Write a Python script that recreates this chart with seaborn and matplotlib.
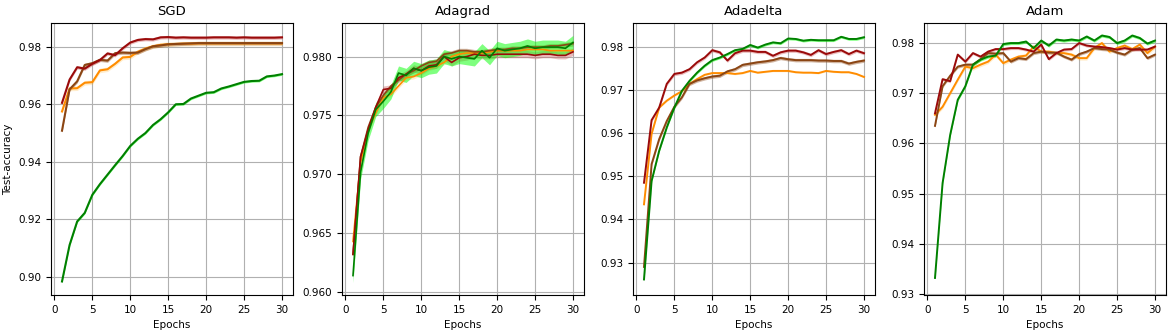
import numpy as np
import pandas as pd
import matplotlib
matplotlib.use('Agg')
import matplotlib.pyplot as plt
import seaborn as sns

epochs = list(range(1, 31))
optimizers = ['SGD', 'Adagrad', 'Adadelta', 'Adam']
series_names = ['orange', 'brown', 'red', 'green']

# mean test accuracy per epoch
sgd_green = [0.8983, 0.9110, 0.9192, 0.9222, 0.9285, 0.9322, 0.9355, 0.9388, 0.9420, 0.9455,
             0.9480, 0.9500, 0.9528, 0.9548, 0.9572, 0.9600, 0.9601, 0.9620, 0.9630, 0.9640,
             0.9642, 0.9655, 0.9662, 0.9670, 0.9678, 0.9681, 0.9682, 0.9697, 0.9700, 0.9705]
sgd_red = [0.9605, 0.9686, 0.9729, 0.9724, 0.9741, 0.9754, 0.9777, 0.9771, 0.9795, 0.9815,
           0.9824, 0.9827, 0.9826, 0.9833, 0.9834, 0.9832, 0.9833, 0.9832, 0.9832, 0.9832,
           0.9833, 0.9833, 0.9833, 0.9832, 0.9833, 0.9832, 0.9832, 0.9832, 0.9832, 0.9833]
sgd_orange = [0.9575, 0.9655, 0.9656, 0.9675, 0.9677, 0.9718, 0.9722, 0.9741, 0.9763, 0.9765,
              0.9783, 0.9794, 0.9802, 0.9807, 0.9809, 0.9810, 0.9811, 0.9811, 0.9812, 0.9812,
              0.9812, 0.9812, 0.9812, 0.9812, 0.9812, 0.9812, 0.9812, 0.9812, 0.9812, 0.9812]
sgd_brown = [0.9508, 0.9652, 0.9680, 0.9737, 0.9743, 0.9755, 0.9752, 0.9778, 0.9780, 0.9779,
             0.9780, 0.9792, 0.9802, 0.9805, 0.9809, 0.9810, 0.9811, 0.9812, 0.9813, 0.9813,
             0.9813, 0.9813, 0.9813, 0.9813, 0.9813, 0.9813, 0.9813, 0.9813, 0.9813, 0.9813]

adagrad_green = [0.9614, 0.9702, 0.9735, 0.9755, 0.9762, 0.9770, 0.9786, 0.9784, 0.9790, 0.9788,
                 0.9791, 0.9792, 0.9800, 0.9798, 0.9800, 0.9799, 0.9798, 0.9805, 0.9799, 0.9807,
                 0.9805, 0.9806, 0.9807, 0.9809, 0.9807, 0.9808, 0.9808, 0.9808, 0.9807, 0.9812]
adagrad_red = [0.9632, 0.9715, 0.9738, 0.9757, 0.9772, 0.9773, 0.9782, 0.9785, 0.9790, 0.9788,
               0.9792, 0.9793, 0.9800, 0.9795, 0.9799, 0.9800, 0.9802, 0.9801, 0.9801, 0.9802,
               0.9802, 0.9802, 0.9802, 0.9802, 0.9801, 0.9802, 0.9802, 0.9801, 0.9801, 0.9804]
adagrad_orange = [0.9643, 0.9710, 0.9738, 0.9752, 0.9765, 0.9768, 0.9775, 0.9782, 0.9783, 0.9786,
                  0.9790, 0.9792, 0.9795, 0.9800, 0.9802, 0.9803, 0.9803, 0.9803, 0.9804, 0.9805,
                  0.9805, 0.9805, 0.9805, 0.9806, 0.9806, 0.9806, 0.9805, 0.9805, 0.9805, 0.9805]
adagrad_brown = [0.9632, 0.9715, 0.9740, 0.9757, 0.9767, 0.9775, 0.9780, 0.9785, 0.9788, 0.9792,
                 0.9795, 0.9796, 0.9802, 0.9803, 0.9805, 0.9805, 0.9804, 0.9804, 0.9805, 0.9806,
                 0.9806, 0.9807, 0.9807, 0.9808, 0.9808, 0.9808, 0.9809, 0.9809, 0.9810, 0.9811]

adadelta_green = [0.9261, 0.9489, 0.9559, 0.9613, 0.9659, 0.9698, 0.9721, 0.9740, 0.9756, 0.9769,
                  0.9775, 0.9783, 0.9792, 0.9795, 0.9804, 0.9798, 0.9805, 0.9810, 0.9808, 0.9819,
                  0.9818, 0.9814, 0.9816, 0.9815, 0.9815, 0.9815, 0.9823, 0.9818, 0.9818, 0.9822]
adadelta_red = [0.9485, 0.9630, 0.9659, 0.9714, 0.9737, 0.9740, 0.9748, 0.9764, 0.9775, 0.9792,
                0.9787, 0.9768, 0.9785, 0.9791, 0.9791, 0.9788, 0.9788, 0.9779, 0.9787, 0.9791,
                0.9791, 0.9787, 0.9781, 0.9792, 0.9783, 0.9788, 0.9792, 0.9783, 0.9791, 0.9785]
adadelta_orange = [0.9435, 0.9598, 0.9659, 0.9675, 0.9687, 0.9697, 0.9714, 0.9725, 0.9735, 0.9739,
                   0.9739, 0.9739, 0.9737, 0.9739, 0.9744, 0.9740, 0.9742, 0.9744, 0.9744, 0.9744,
                   0.9741, 0.9740, 0.9740, 0.9739, 0.9744, 0.9742, 0.9741, 0.9741, 0.9737, 0.9730]
adadelta_brown = [0.9290, 0.9528, 0.9586, 0.9628, 0.9661, 0.9683, 0.9714, 0.9722, 0.9727, 0.9731,
                  0.9733, 0.9743, 0.9748, 0.9758, 0.9761, 0.9764, 0.9766, 0.9769, 0.9774, 0.9771,
                  0.9769, 0.9769, 0.9769, 0.9768, 0.9768, 0.9767, 0.9767, 0.9761, 0.9765, 0.9768]

adam_green = [0.9332, 0.9521, 0.9617, 0.9687, 0.9714, 0.9757, 0.9767, 0.9773, 0.9775, 0.9798,
              0.9800, 0.9800, 0.9803, 0.9790, 0.9805, 0.9795, 0.9807, 0.9805, 0.9807, 0.9805,
              0.9813, 0.9805, 0.9815, 0.9812, 0.9800, 0.9805, 0.9815, 0.9810, 0.9799, 0.9805]
adam_red = [0.9660, 0.9728, 0.9724, 0.9777, 0.9763, 0.9780, 0.9773, 0.9783, 0.9788, 0.9788,
            0.9790, 0.9790, 0.9787, 0.9783, 0.9797, 0.9768, 0.9780, 0.9787, 0.9788, 0.9800,
            0.9795, 0.9793, 0.9792, 0.9790, 0.9787, 0.9790, 0.9787, 0.9787, 0.9787, 0.9793]
adam_orange = [0.9657, 0.9673, 0.9700, 0.9727, 0.9753, 0.9750, 0.9757, 0.9763, 0.9777, 0.9760,
               0.9767, 0.9773, 0.9775, 0.9793, 0.9783, 0.9783, 0.9780, 0.9780, 0.9777, 0.9770,
               0.9770, 0.9790, 0.9800, 0.9783, 0.9790, 0.9795, 0.9788, 0.9797, 0.9780, 0.9793]
adam_brown = [0.9635, 0.9714, 0.9735, 0.9753, 0.9757, 0.9757, 0.9768, 0.9780, 0.9779, 0.9780,
              0.9763, 0.9770, 0.9768, 0.9780, 0.9783, 0.9781, 0.9781, 0.9773, 0.9767, 0.9778,
              0.9783, 0.9790, 0.9788, 0.9787, 0.9781, 0.9777, 0.9787, 0.9790, 0.9770, 0.9777]

# half-width of the shaded band, one value per series (orange, brown, red, green)
sgd_band = [0.0008, 0.0006, 0.0006, 0.0004]
adagrad_band = [0.0002, 0.0002, 0.0003, 0.0006]
adadelta_band = [0.0002, 0.0004, 0.0004, 0.0003]
adam_band = [0.0004, 0.0003, 0.0003, 0.0003]

means = {
    'SGD': [sgd_orange, sgd_brown, sgd_red, sgd_green],
    'Adagrad': [adagrad_orange, adagrad_brown, adagrad_red, adagrad_green],
    'Adadelta': [adadelta_orange, adadelta_brown, adadelta_red, adadelta_green],
    'Adam': [adam_orange, adam_brown, adam_red, adam_green],
}
bands = {'SGD': sgd_band, 'Adagrad': adagrad_band, 'Adadelta': adadelta_band, 'Adam': adam_band}

line_colors = {'orange': 'darkorange', 'brown': 'saddlebrown', 'red': '#9a0a0a', 'green': 'green'}
band_colors = {'orange': ('orange', 0.2), 'brown': ('saddlebrown', 0.4),
               'red': ('indianred', 0.4), 'green': ('lime', 0.5)}
line_widths = {'SGD': 1.5, 'Adagrad': 1.2, 'Adadelta': 1.4, 'Adam': 1.4}


def main():
    fig, axes = plt.subplots(1, 4, figsize=(11.73, 3.33), dpi=100)
    fig.subplots_adjust(left=51 / 1173, right=1166 / 1173, top=1 - 23 / 333,
                        bottom=1 - 295 / 333, wspace=49 / 242)

    for ax, opt in zip(axes, optimizers):
        rows = []
        for name, vals, w in zip(series_names, means[opt], bands[opt]):
            for e, v in zip(epochs, vals):
                rows.append({'epoch': e, 'acc': v, 'series': name, 'w': w})
        df = pd.DataFrame(rows)

        # shaded bands first
        for name in series_names:
            d = df[df['series'] == name]
            c, a = band_colors[name]
            ax.fill_between(d['epoch'], d['acc'] - d['w'], d['acc'] + d['w'],
                            color=c, alpha=a, linewidth=0, zorder=1)

        sns.lineplot(data=df, x='epoch', y='acc', hue='series', palette=line_colors,
                     hue_order=series_names, linewidth=line_widths[opt], legend=False,
                     ax=ax, zorder=2)

        ax.set_title(opt, fontsize=9.5)
        ax.set_xlabel('Epochs', fontsize=7.5)
        ax.set_ylabel('')
        ax.set_xticks([0, 5, 10, 15, 20, 25, 30])
        ax.tick_params(labelsize=7.5)
        ax.grid(True, color='#b0b0b0', linewidth=0.8)
        ax.set_axisbelow(True)

    axes[0].set_ylabel('Test-accuracy', fontsize=7.5)
    axes[1].yaxis.set_major_formatter(matplotlib.ticker.FormatStrFormatter('%.3f'))
    axes[2].set_ylim(0.9225, 0.9855)
    axes[3].set_ylim(0.9298, 0.9840)

    fig.savefig('out.png', dpi=100)


if __name__ == '__main__':
    main()
